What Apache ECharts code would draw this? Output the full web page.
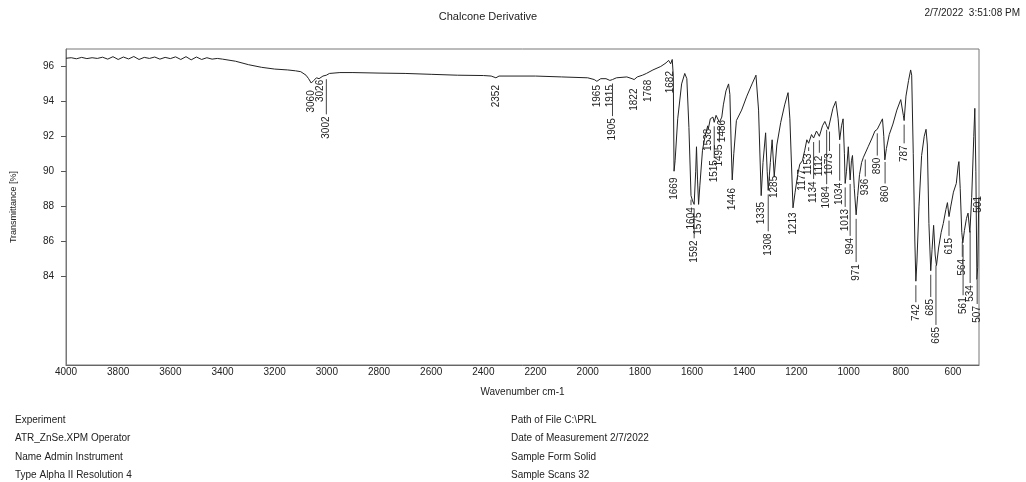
<!DOCTYPE html>
<html>
<head>
<meta charset="utf-8">
<script src="https://cdn.jsdelivr.net/npm/echarts@6/dist/echarts.min.js"></script>
<style>
  html, body { margin: 0; padding: 0; background: #fff; }
  #ir-chart { width: 1026px; height: 482px; }
</style>
</head>
<body>
<div id="ir-chart"></div>
<script>
// spectrum (wavenumber cm-1 / transmittance %)
let wavenumbers = [
    4000, 3980, 3960, 3940, 3920, 3900, 3880, 3860, 3840, 3820, 3800, 3780, 3760, 3740, 3720, 3700,
    3680, 3660, 3640, 3620, 3600, 3580, 3560, 3540, 3520, 3500, 3480, 3460, 3440, 3420, 3400, 3350,
    3300, 3250, 3200, 3150, 3120, 3100, 3080, 3070, 3060, 3050, 3040, 3030, 3026, 3015, 3002, 2990,
    2950, 2900, 2800, 2700, 2600, 2500, 2400, 2370, 2352, 2340, 2200, 2100, 2000, 1975, 1965, 1950,
    1930, 1915, 1905, 1890, 1850, 1830, 1822, 1810, 1790, 1775, 1768, 1750, 1720, 1700, 1690, 1682,
    1676, 1672, 1669, 1665, 1655, 1640, 1628, 1620, 1612, 1604, 1598, 1592, 1586, 1583, 1579, 1575,
    1570, 1560, 1550, 1540, 1538, 1530, 1520, 1515, 1508, 1504, 1495, 1486, 1480, 1470, 1460, 1455,
    1450, 1446, 1440, 1430, 1410, 1390, 1370, 1355, 1345, 1335, 1328, 1318, 1312, 1308, 1300, 1293,
    1285, 1275, 1260, 1245, 1232, 1225, 1213, 1205, 1195, 1187, 1177, 1168, 1160, 1153, 1142, 1134,
    1123, 1112, 1100, 1091, 1084, 1078, 1073, 1060, 1049, 1040, 1034, 1027, 1021, 1016, 1013, 1008,
    1001, 994, 989, 985, 978, 971, 965, 958, 950, 943, 936, 925, 910, 899, 890, 880,
    870, 865, 861, 855, 844, 830, 815, 800, 790, 787, 780, 770, 762, 758, 752, 746,
    742, 738, 730, 720, 710, 703, 698, 692, 685, 680, 674, 668, 663, 655, 645, 637,
    627, 621, 615, 608, 598, 587, 580, 577, 572, 566, 562, 556, 548, 542, 535, 528,
    520, 516, 512, 508, 505, 501, 500
];
let transmittance = [
    96.47, 96.5, 96.44, 96.52, 96.45, 96.5, 96.46, 96.53, 96.42, 96.56, 96.4, 96.54, 96.43, 96.57, 96.4, 96.52,
    96.46, 96.54, 96.42, 96.52, 96.45, 96.55, 96.4, 96.56, 96.38, 96.54, 96.4, 96.5, 96.42, 96.46, 96.42, 96.3,
    96.1, 95.95, 95.85, 95.8, 95.75, 95.7, 95.5, 95.3, 95.05, 95.2, 95.35, 95.3, 95.25, 95.45, 95.5, 95.6,
    95.65, 95.65, 95.62, 95.6, 95.55, 95.5, 95.48, 95.45, 95.35, 95.45, 95.45, 95.4, 95.35, 95.25, 95.15, 95.3,
    95.3, 95.2, 95.25, 95.35, 95.4, 95.3, 95.25, 95.4, 95.5, 95.6, 95.55, 95.8, 96.0, 96.2, 96.35, 96.15,
    96.4, 95.5, 90.0, 90.6, 93.0, 95.0, 95.6, 95.3, 92.5, 88.6, 88.3, 88.1, 90.0, 91.4, 89.5, 88.1,
    89.2, 91.2, 92.0, 92.6, 92.4, 93.0, 93.1, 92.8, 93.2, 93.3, 92.8, 93.1, 93.8, 94.6, 95.0, 94.4,
    91.5, 89.5, 91.0, 92.9, 93.5, 94.3, 95.0, 95.5, 93.5, 88.6, 90.5, 92.2, 90.0, 88.9, 90.5, 91.8,
    89.7, 91.5, 92.8, 93.8, 94.5, 93.0, 87.9, 88.8, 89.8, 90.4, 90.6, 91.2, 91.8, 91.6, 92.1, 91.9,
    92.3, 92.0, 92.6, 92.85, 92.6, 92.4, 92.5, 93.6, 94.0, 93.0, 91.8, 92.6, 93.0, 91.0, 89.3, 90.0,
    91.4, 89.5, 90.6, 90.9, 89.0, 87.5, 88.6, 89.8, 90.5, 90.8, 90.9, 91.4, 91.9, 92.3, 92.4, 92.7,
    93.0, 92.0, 90.65, 91.3, 92.1, 92.7, 93.5, 94.1, 93.2, 92.9, 94.3, 95.2, 95.8, 95.5, 91.0, 86.0,
    83.7, 84.8, 88.0, 90.9, 92.0, 92.4, 91.5, 87.0, 84.3, 85.5, 86.9, 85.2, 84.6, 85.6, 86.5, 87.0,
    87.8, 88.2, 87.4, 88.0, 88.8, 89.3, 90.3, 90.55, 89.0, 86.5, 85.9, 86.6, 87.3, 87.6, 86.5, 88.5,
    92.0, 93.6, 90.0, 83.8, 84.5, 88.3, 88.5
];

// peak picks and the height (in %T) where each label sits
let peakWavenumbers = [
    3060, 3026, 3002, 2352, 1965, 1915, 1905, 1822, 1768, 1682,
    1669, 1604, 1592, 1575, 1538, 1515, 1495, 1486, 1446, 1335,
    1308, 1285, 1213, 1177, 1153, 1134, 1112, 1084, 1073, 1034,
    1013, 994, 971, 936, 890, 860, 787, 742, 685, 665,
    615, 564, 561, 534, 507, 501
];
let peakLabelLevels = [
    94.0, 94.6, 92.5, 94.3, 94.3, 94.3, 92.4, 94.1, 94.6, 95.1,
    89.0, 87.3, 85.4, 87.0, 91.8, 90.0, 90.9, 92.3, 88.4, 87.6,
    85.8, 89.1, 87.0, 89.5, 90.4, 88.8, 90.3, 88.5, 90.4, 88.7,
    87.2, 85.7, 84.2, 89.1, 90.3, 88.7, 91.0, 81.9, 82.2, 80.6,
    85.7, 84.5, 82.3, 83.0, 81.8, 88.1
];

let yTicks = [84, 86, 88, 90, 92, 94, 96];
let xTicks = [4000, 3800, 3600, 3400, 3200, 3000, 2800, 2600, 2400, 2200, 2000, 1800, 1600, 1400, 1200, 1000, 800, 600];

let infoLeft = ['Experiment', 'ATR_ZnSe.XPM Operator', 'Name Admin Instrument', 'Type Alpha II Resolution 4'];
let infoRight = ['Path of File C:\\PRL', 'Date of Measurement 2/7/2022', 'Sample Form Solid', 'Sample Scans 32'];

const FONT = 'Liberation Sans, Arial, sans-serif';
const INK = '#222';

function spectrumAt(wn) {
    for (let i = 0; i < wavenumbers.length - 1; i++) {
        let a = wavenumbers[i], b = wavenumbers[i + 1];
        if (wn <= a && wn >= b) {
            let t = (a - wn) / (a - b);
            return transmittance[i] + (transmittance[i + 1] - transmittance[i]) * t;
        }
    }
    return transmittance[transmittance.length - 1];
}

let lineData = wavenumbers.map(function (w, i) { return [w, transmittance[i]]; });
let peakData = peakWavenumbers.map(function (w, i) { return [w, peakLabelLevels[i], spectrumAt(w)]; });

let myChart = echarts.init(document.getElementById('ir-chart'));

let graphics = [];
infoLeft.forEach(function (t, i) {
    graphics.push({
        type: 'text', left: 15, top: 415 + i * 18.5,
        style: {text: t, font: '10px ' + FONT, fill: INK}
    });
});
infoRight.forEach(function (t, i) {
    graphics.push({
        type: 'text', left: 511, top: 415 + i * 18.5,
        style: {text: t, font: '10px ' + FONT, fill: INK}
    });
});
graphics.push({
    type: 'text', right: 6, top: 8,
    style: {text: '2/7/2022  3:51:08 PM', font: '10px ' + FONT, fill: INK}
});

option = {
    backgroundColor: '#fff',
    animation: false,
    title: {
        text: 'Chalcone Derivative',
        left: 483,
        textAlign: 'center',
        top: 6,
        textStyle: {
            color: INK,
            fontSize: 11,
            fontWeight: 'normal',
            fontFamily: FONT
        }
    },
    grid: {
        left: 66,
        right: 47,
        top: 49,
        bottom: 117,
        show: true,
        borderColor: '#777',
        borderWidth: 1
    },
    xAxis: {
        type: 'value',
        inverse: true,
        min: 500,
        max: 4000,
        name: 'Wavenumber cm-1',
        nameLocation: 'middle',
        nameGap: 22,
        nameTextStyle: {color: INK, fontSize: 10, fontFamily: FONT},
        axisLine: {show: true, lineStyle: {color: '#666'}},
        axisTick: {show: false},
        splitLine: {show: false},
        axisLabel: {
            customValues: xTicks,
            formatter: function (v) { return String(v); },
            margin: 2,
            color: INK,
            fontSize: 10,
            fontFamily: FONT
        }
    },
    yAxis: {
        type: 'value',
        min: 78.9,
        max: 97,
        name: 'Transmittance [%]',
        nameLocation: 'middle',
        nameGap: 48,
        nameTextStyle: {color: INK, fontSize: 9, fontFamily: FONT},
        axisLine: {show: true, lineStyle: {color: '#777'}},
        axisTick: {show: true, customValues: yTicks, length: 5, lineStyle: {color: '#555'}},
        splitLine: {show: false},
        axisLabel: {
            customValues: yTicks,
            margin: 12,
            color: INK,
            fontSize: 10,
            fontFamily: FONT
        }
    },
    graphic: graphics,
    series: [
        {
            name: 'spectrum',
            type: 'line',
            data: lineData,
            showSymbol: false,
            symbol: 'none',
            lineStyle: {color: INK, width: 1}
        },
        {
            name: 'peaks',
            type: 'custom',
            data: peakData,
            clip: false,
            renderItem: function (params, api) {
                let wn = api.value(0);
                let label = String(wn);
                let center = api.coord([wn, api.value(1)]);
                let onLine = api.coord([wn, api.value(2)]);
                let half = label.length * 2.8;
                let children = [{
                    type: 'text',
                    x: center[0],
                    y: center[1],
                    rotation: Math.PI / 2,
                    style: {
                        text: label,
                        font: '10px ' + FONT,
                        fill: INK,
                        align: 'center',
                        verticalAlign: 'middle'
                    }
                }];
                let y1 = onLine[1] + 4;
                let y2 = center[1] - half - 2;
                if (y2 - y1 > 3) {
                    children.push({
                        type: 'line',
                        shape: {x1: center[0], y1: y1, x2: center[0], y2: y2},
                        style: {stroke: '#444', lineWidth: 1}
                    });
                }
                return {type: 'group', children: children};
            }
        }
    ]
};
myChart.setOption(option);
</script>
</body>
</html>
